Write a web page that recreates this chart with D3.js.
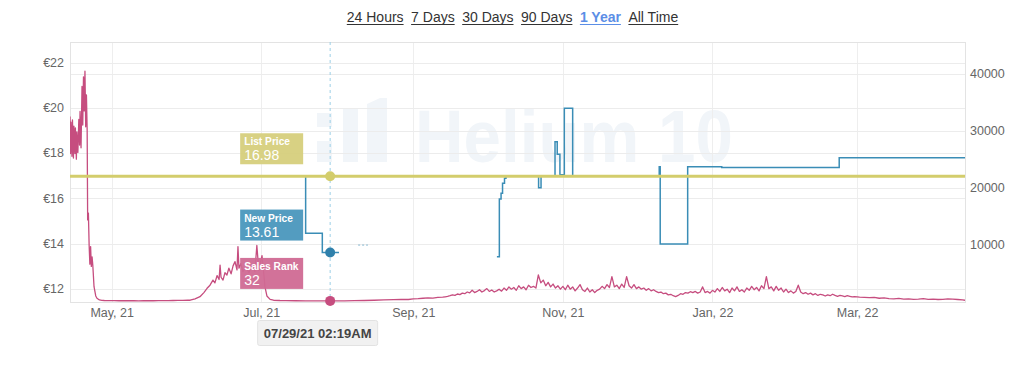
<!DOCTYPE html>
<html><head><meta charset="utf-8">
<script src="https://cdnjs.cloudflare.com/ajax/libs/d3/7.8.5/d3.min.js"></script>
<style>
body{margin:0;background:#fff;}
svg{display:block;font-family:"Liberation Sans",Arial,sans-serif;}
</style>
</head><body>
<svg id="c" width="1024" height="366"></svg>
<script>
// ---------------- DATA ----------------
const rangeButtons = ["24 Hours", "7 Days", "30 Days", "90 Days", "1 Year", "All Time"];
const activeButton = "1 Year";
const startDate = "2021-04-14";
const endDate = "2022-04-14";
const xTickDates = ["2021-05-01", "2021-07-01", "2021-09-01", "2021-11-01", "2022-01-01", "2022-03-01"];
const xTickLabels = ["May, 21", "Jul, 21", "Sep, 21", "Nov, 21", "Jan, 22", "Mar, 22"];
const priceTicks = [12, 14, 16, 18, 20, 22];
const priceTickLabels = ["€12", "€14", "€16", "€18", "€20", "€22"];
const rankTicks = [10000, 20000, 30000, 40000];
const rankTickLabels = ["10000", "20000", "30000", "40000"];

// [day offset from startDate, value]
const listPrice = [[0, 16.98], [365, 16.98]];
const newPrice = [
  [95.9, 16.98], [96.1, 14.46], [102.9, 13.61], [109.7, 13.61], [109.8, null],
  [174.1, 13.43], [175.1, 15.97], [175.8, 16.23], [176.4, 16.67], [177.2, 16.89], [177.8, 16.98],
  [191.1, 16.47], [192.1, 16.98], [197.8, 18.5], [198.7, 17.95], [199.8, 17.05], [201.6, 19.98],
  [205.0, 16.98], [240.3, 17.40], [240.7, 13.99], [251.9, 17.40], [265.8, 17.37], [313.7, 17.80], [365, 17.80]
];
const newPriceFragment = [[117.5, 13.94], [121.5, 13.94]];
const rankEarly = [
  [0, 32500], [0.2, 26000], [0.4, 31500], [0.8, 25500], [1.0, 31900], [1.4, 25200], [1.6, 30800],
  [2.0, 26000], [2.2, 30500], [2.6, 25000], [2.8, 29800], [3.2, 26200], [3.6, 32000], [3.9, 27500],
  [4.1, 33400], [4.5, 27000], [4.9, 37800], [5.2, 31000], [5.5, 39500], [5.8, 33500], [6.1, 40500],
  [6.4, 30700], [6.7, 36300], [7.0, 30000], [7.2, 14300], [7.5, 15500], [7.8, 9900], [8.1, 6500],
  [8.4, 9600], [8.7, 6100], [9.0, 7800], [9.3, 6300], [9.8, 2540], [10.5, 900], [11, 500], [12, 200],
  [13, 120], [14, 100], [16, 80], [18, 70], [20, 60], [22, 60], [24, 70], [26, 60], [28, 50], [30, 60],
  [32, 70], [34, 60], [36, 80], [38, 70], [40, 90], [42, 100], [44, 110], [46, 130], [48, 150],
  [49, 150], [51, 400], [53, 770], [54.6, 1500], [55.9, 2250], [57.1, 2800], [58.3, 3700], [59.1, 3200],
  [60, 4500], [60.8, 3800], [61.2, 6350], [61.6, 4200], [62.4, 3700], [63.2, 5000], [64, 4600],
  [64.8, 5800], [65.7, 4800], [66.5, 6200], [67.3, 6950], [68.1, 5500], [68.5, 9600], [68.9, 5800],
  [69.7, 6600], [70.5, 5200], [71.8, 6000], [73, 5000], [74.2, 6400], [75.4, 5200], [76.2, 9800],
  [77, 5400], [78.3, 8000], [79.1, 4500], [79.5, 2540], [80.3, 900], [81.6, 300], [83, 150],
  [85.6, 100], [88, 80], [92, 60], [96, 50], [100, 40], [104, 35], [106, 32], [108, 35], [112, 50],
  [116, 70], [120, 100], [124, 150], [128, 200], [132, 260], [135, 300], [138, 280], [140, 380],
  [142, 420], [144, 500], [146, 560], [148, 520], [150, 650], [152, 700], [153, 760]
];
const rankDailyStart = 154;
const rankDaily = [
  820, 950, 1100, 1000, 1250, 1150, 1400, 1300, 1600, 1450,
  1900, 1500, 1700, 2000, 1600, 1850, 2200, 1700, 1950, 1600,
  1800, 2100, 1750, 2300, 1900, 2500, 2100, 2400, 1900, 2700,
  2200, 2500, 2000, 2800, 2400, 2600, 2300, 4600, 3200, 3700,
  2700, 3300, 2500, 3000, 2300, 2700, 2100, 2600, 2000, 2800,
  2100, 2500, 1800, 2300, 2900, 2000, 1700, 2300, 1600, 2000,
  1500, 1900, 2100, 2600, 2200, 2900, 2400, 4300, 2500, 2800,
  2200, 3000, 2400, 4300, 2700, 2300, 2900, 2200, 2500, 2100,
  2300, 1900, 2200, 1800, 2000, 1700, 1500, 1600, 1300, 1400,
  1100, 1200, 950, 800, 1000, 1300, 1200, 1500, 1400, 1650,
  1500, 1700, 1400, 1600, 2500, 1500, 1700, 1400, 1900, 1600,
  2200, 1700, 2400, 1800, 2100, 1500, 2300, 1800, 2500, 1700,
  2000, 1600, 2300, 1900, 2600, 2000, 2400, 1800, 2700, 2200,
  4300, 2200, 2500, 1800, 2600, 1900, 2300, 1600, 2100, 1500,
  1800, 1400, 1700, 2800, 1600, 1300, 1500, 1200, 1400, 1100,
  1300, 1000, 1200, 1100, 900, 1100, 950, 1200, 1000, 850,
  1000, 900, 800, 950, 850, 750, 800
];
const rankTail = [
  [322, 700], [324, 650], [326, 600], [328, 650], [330, 500], [332, 550], [334, 450], [336, 400],
  [338, 480], [340, 350], [342, 400], [344, 300], [346, 350], [348, 420], [350, 300], [352, 350],
  [354, 280], [356, 320], [358, 400], [360, 350], [362, 280], [364, 200], [365, 150]
];
const hoverDate = "2021-07-29T02:19:00";
const hoverLabel = "07/29/21 02:19AM";
const tooltipNames = ["List Price", "New Price", "Sales Rank"];
const tooltipValues = [16.98, 13.61, 32];
const tooltipTexts = ["16.98", "13.61", "32"];
const watermarkText = "Helium 10";

// ---------------- STYLE ----------------
const W = 1024, H = 366;
const plot = {left: 70, right: 965, top: 42, bottom: 302};
const colors = {list: "#d3cd6c", listBox: "#d6cf7c", newP: "#3a8db6", newBox: "#4a97bd",
  rank: "#c64d7f", rankBox: "#d06a93", grid: "#ececec", frame: "#e3e3e3", text: "#666"};

const svg = d3.select("#c");
svg.append("rect").attr("width", W).attr("height", H).attr("fill", "#fff");

const t0 = new Date(startDate + "T00:00:00");
const dayToDate = d => new Date(t0.getTime() + d * 86400000);
const x = d3.scaleTime().domain([t0, new Date(endDate + "T00:00:00")]).range([plot.left, plot.right]);
const yP = d3.scaleLinear().domain([11.426, 22.91]).range([plot.bottom, plot.top]);
const yR = d3.scaleLinear().domain([-160, 45640]).range([plot.bottom, plot.top]);

// ---- top range buttons ----
const nav = svg.append("g");
let nx = 0;
const navItems = [];
rangeButtons.forEach(label => {
  const t = nav.append("text").attr("x", nx).attr("y", 22).attr("font-size", 14)
    .attr("fill", label === activeButton ? "#5b8ee6" : "#333")
    .attr("font-weight", label === activeButton ? "bold" : "normal")
    .text(label);
  const w = t.node().getComputedTextLength();
  navItems.push({x: nx, w, active: label === activeButton});
  nx += w + 7.5;
});
const totalW = nx - 7.5;
const navStart = 512.5 - totalW / 2;
nav.attr("transform", `translate(${navStart},0)`);
navItems.forEach(it => {
  nav.append("line").attr("x1", it.x).attr("x2", it.x + it.w).attr("y1", 24.5).attr("y2", 24.5)
    .attr("stroke", it.active ? "#5b8ee6" : "#333").attr("stroke-width", 1);
});

// ---- watermark ----
const wm = svg.append("g").attr("fill", "#f1f5f9");
wm.append("rect").attr("x", 317).attr("y", 113).attr("width", 15).attr("height", 14);
wm.append("rect").attr("x", 317).attr("y", 141).attr("width", 15).attr("height", 21);
wm.append("rect").attr("x", 343).attr("y", 108).attr("width", 15).attr("height", 54);
wm.append("path").attr("d", "M367,104 L380,98 L387,98 L387,162 L367,162 Z");
wm.append("text").attr("x", 415).attr("y", 161.5).attr("font-size", 74).attr("font-weight", "bold")
  .attr("textLength", 318).attr("lengthAdjust", "spacingAndGlyphs").text(watermarkText);

// ---- grid ----
const grid = svg.append("g");
xTickDates.forEach(d => {
  const xx = Math.round(x(new Date(d + "T00:00:00"))) + 0.5;
  grid.append("line").attr("x1", xx).attr("x2", xx).attr("y1", plot.top).attr("y2", plot.bottom)
    .attr("stroke", "#eeeeee");
});
priceTicks.forEach(v => {
  const yy = Math.round(yP(v)) + 0.5;
  grid.append("line").attr("x1", plot.left).attr("x2", plot.right).attr("y1", yy).attr("y2", yy).attr("stroke", colors.grid);
});
rankTicks.forEach(v => {
  const yy = Math.round(yR(v)) + 0.5;
  grid.append("line").attr("x1", plot.left).attr("x2", plot.right).attr("y1", yy).attr("y2", yy).attr("stroke", colors.grid);
});
grid.append("rect").attr("x", plot.left + 0.5).attr("y", plot.top + 0.5)
  .attr("width", plot.right - plot.left).attr("height", plot.bottom - plot.top)
  .attr("fill", "none").attr("stroke", colors.frame);

// ---- axes labels ----
const axL = svg.append("g").attr("transform", `translate(${plot.left - 6},0)`)
  .call(d3.axisLeft(yP).tickValues(priceTicks).tickFormat((d, i) => priceTickLabels[i]).tickSize(0).tickPadding(0));
const axR = svg.append("g").attr("transform", `translate(${plot.right + 5},0)`)
  .call(d3.axisRight(yR).tickValues(rankTicks).tickFormat((d, i) => rankTickLabels[i]).tickSize(0).tickPadding(0));
const axB = svg.append("g").attr("transform", `translate(0,${plot.bottom + 2})`)
  .call(d3.axisBottom(x).tickValues(xTickDates.map(d => new Date(d + "T00:00:00")))
    .tickFormat((d, i) => xTickLabels[i]).tickSize(0).tickPadding(4));
[axL, axR, axB].forEach(a => {
  a.select(".domain").remove();
  a.selectAll("text").attr("font-size", 12.5).attr("fill", colors.text)
    .attr("font-family", '"Liberation Sans",Arial,sans-serif');
});
axL.selectAll("text").attr("dy", "0.3em");
axR.selectAll("text").attr("dy", "0.3em");

// ---- series ----
svg.append("clipPath").attr("id", "clip").append("rect")
  .attr("x", plot.left).attr("y", plot.top).attr("width", plot.right - plot.left).attr("height", plot.bottom - plot.top);
const series = svg.append("g").attr("clip-path", "url(#clip)");

const rankData = rankEarly
  .concat(rankDaily.map((v, i) => [rankDailyStart + i, v]))
  .concat(rankTail);
const rankLine = d3.line().x(d => x(dayToDate(d[0]))).y(d => yR(d[1]));
series.append("path").attr("d", rankLine(rankData)).attr("fill", "none")
  .attr("stroke", colors.rank).attr("stroke-width", 1.3).attr("stroke-linejoin", "round");

const priceLine = d3.line().defined(d => d[1] != null).curve(d3.curveStepAfter)
  .x(d => x(dayToDate(d[0]))).y(d => yP(d[1]));
series.append("path").attr("d", priceLine(newPrice)).attr("fill", "none")
  .attr("stroke", colors.newP).attr("stroke-width", 1.5);
series.append("path").attr("d", priceLine(newPriceFragment)).attr("fill", "none")
  .attr("stroke", colors.newP).attr("stroke-width", 1).attr("stroke-dasharray", "2,2").attr("opacity", 0.6);
series.append("path").attr("d", priceLine(listPrice)).attr("fill", "none")
  .attr("stroke", colors.list).attr("stroke-width", 3);

// ---- crosshair ----
const hx = x(new Date(hoverDate));
svg.append("line").attr("x1", hx).attr("x2", hx).attr("y1", plot.top).attr("y2", plot.bottom)
  .attr("stroke", "#9ccfe6").attr("stroke-width", 1).attr("stroke-dasharray", "3,3");
const markerY = [yP(tooltipValues[0]), yP(tooltipValues[1]), yR(tooltipValues[2])];
const markerC = [colors.list, "#2f80ab", colors.rank];
const boxC = [colors.listBox, colors.newBox, colors.rankBox];
markerY.forEach((yy, i) => {
  svg.append("circle").attr("cx", hx).attr("cy", yy).attr("r", 5).attr("fill", markerC[i]);
});
markerY.forEach((yy, i) => {
  const g = svg.append("g").attr("transform", `translate(${hx - 90},${yy - 43})`);
  g.append("rect").attr("width", 63).attr("height", 31).attr("fill", boxC[i]).attr("opacity", 0.95);
  g.append("text").attr("x", 4).attr("y", 12).attr("font-size", 10.2).attr("font-weight", "bold")
    .attr("fill", "#fff").text(tooltipNames[i]);
  g.append("text").attr("x", 4).attr("y", 27).attr("font-size", 14)
    .attr("fill", "#fff").text(tooltipTexts[i]);
});

// ---- date tooltip ----
const dg = svg.append("g").attr("transform", `translate(${hx - 73},320)`);
dg.append("rect").attr("x", 0.5).attr("y", 0.5).attr("width", 120).attr("height", 25).attr("rx", 2)
  .attr("fill", "#f1f1f1").attr("stroke", "#e2e2e2");
dg.append("text").attr("x", 60.5).attr("y", 17.5).attr("text-anchor", "middle").attr("font-size", 13)
  .attr("font-weight", "bold").attr("fill", "#444").text(hoverLabel);
</script>
</body></html>
